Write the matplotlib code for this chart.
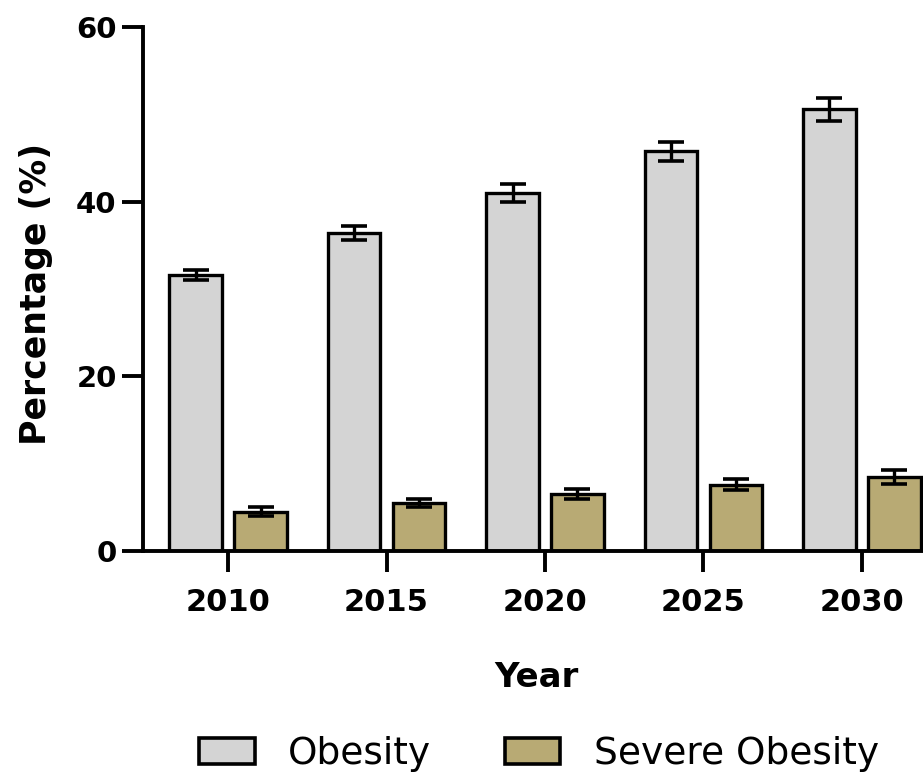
import matplotlib
matplotlib.use("Agg")
import matplotlib.pyplot as plt
import numpy as np
from matplotlib.patches import Patch

years = ["2010", "2015", "2020", "2025", "2030"]
obesity = [31.6, 36.4, 41.0, 45.8, 50.6]
obesity_err = [0.6, 0.8, 1.0, 1.1, 1.3]
severe = [4.5, 5.5, 6.5, 7.6, 8.5]
severe_err = [0.5, 0.5, 0.6, 0.6, 0.8]
series_names = ["Obesity", "Severe Obesity"]
colors = ["#d4d4d4", "#b8aa74"]

plt.rcParams['font.family'] = ['DejaVu Sans']

fig = plt.figure(figsize=(9.23, 7.76), dpi=100)
ax = fig.add_axes([0.155, 0.29, 0.845, 0.675])

x = np.arange(len(years))
w = 0.33
off = 0.205
lw = 2.4
ax.bar(x - off, obesity, w, color=colors[0], edgecolor="black", linewidth=lw, zorder=2)
ax.bar(x + off, severe, w, color=colors[1], edgecolor="black", linewidth=lw, zorder=2)
ax.errorbar(x - off, obesity, yerr=obesity_err, fmt="none", ecolor="black",
            elinewidth=2.4, capsize=9.5, capthick=2.6, zorder=3)
ax.errorbar(x + off, severe, yerr=severe_err, fmt="none", ecolor="black",
            elinewidth=2.4, capsize=9.5, capthick=2.6, zorder=3)

ax.set_xlim(-0.536, 4.385)
ax.set_ylim(0, 60)
ax.set_yticks([0, 20, 40, 60])
ax.set_xticks(x)
ax.set_xticklabels(years)
for s in ["top", "right"]:
    ax.spines[s].set_visible(False)
for s in ["left", "bottom"]:
    ax.spines[s].set_linewidth(2.8)
ax.tick_params(axis="y", length=15, width=2.8, labelsize=21, pad=4)
ax.tick_params(axis="x", length=15, width=2.8, labelsize=22, pad=12)
for lab in ax.get_xticklabels() + ax.get_yticklabels():
    lab.set_fontweight("bold")

ax.set_ylabel("Percentage (%)", fontsize=25, fontweight="bold")
ax.yaxis.set_label_coords(-0.115, 0.49)
ax.set_xlabel("Year", fontsize=24.5, fontweight="bold")
ax.xaxis.set_label_coords(0.505, -0.21)

handles = [Patch(facecolor=colors[i], edgecolor="black", linewidth=2.6, label=series_names[i])
           for i in range(2)]
fig.legend(handles=handles, loc="center", bbox_to_anchor=(0.584, 0.028), ncol=2,
           frameon=False, fontsize=27, handlelength=1.49, handleheight=0.69,
           columnspacing=1.95, handletextpad=0.9)

fig.savefig("out.png", dpi=100)
